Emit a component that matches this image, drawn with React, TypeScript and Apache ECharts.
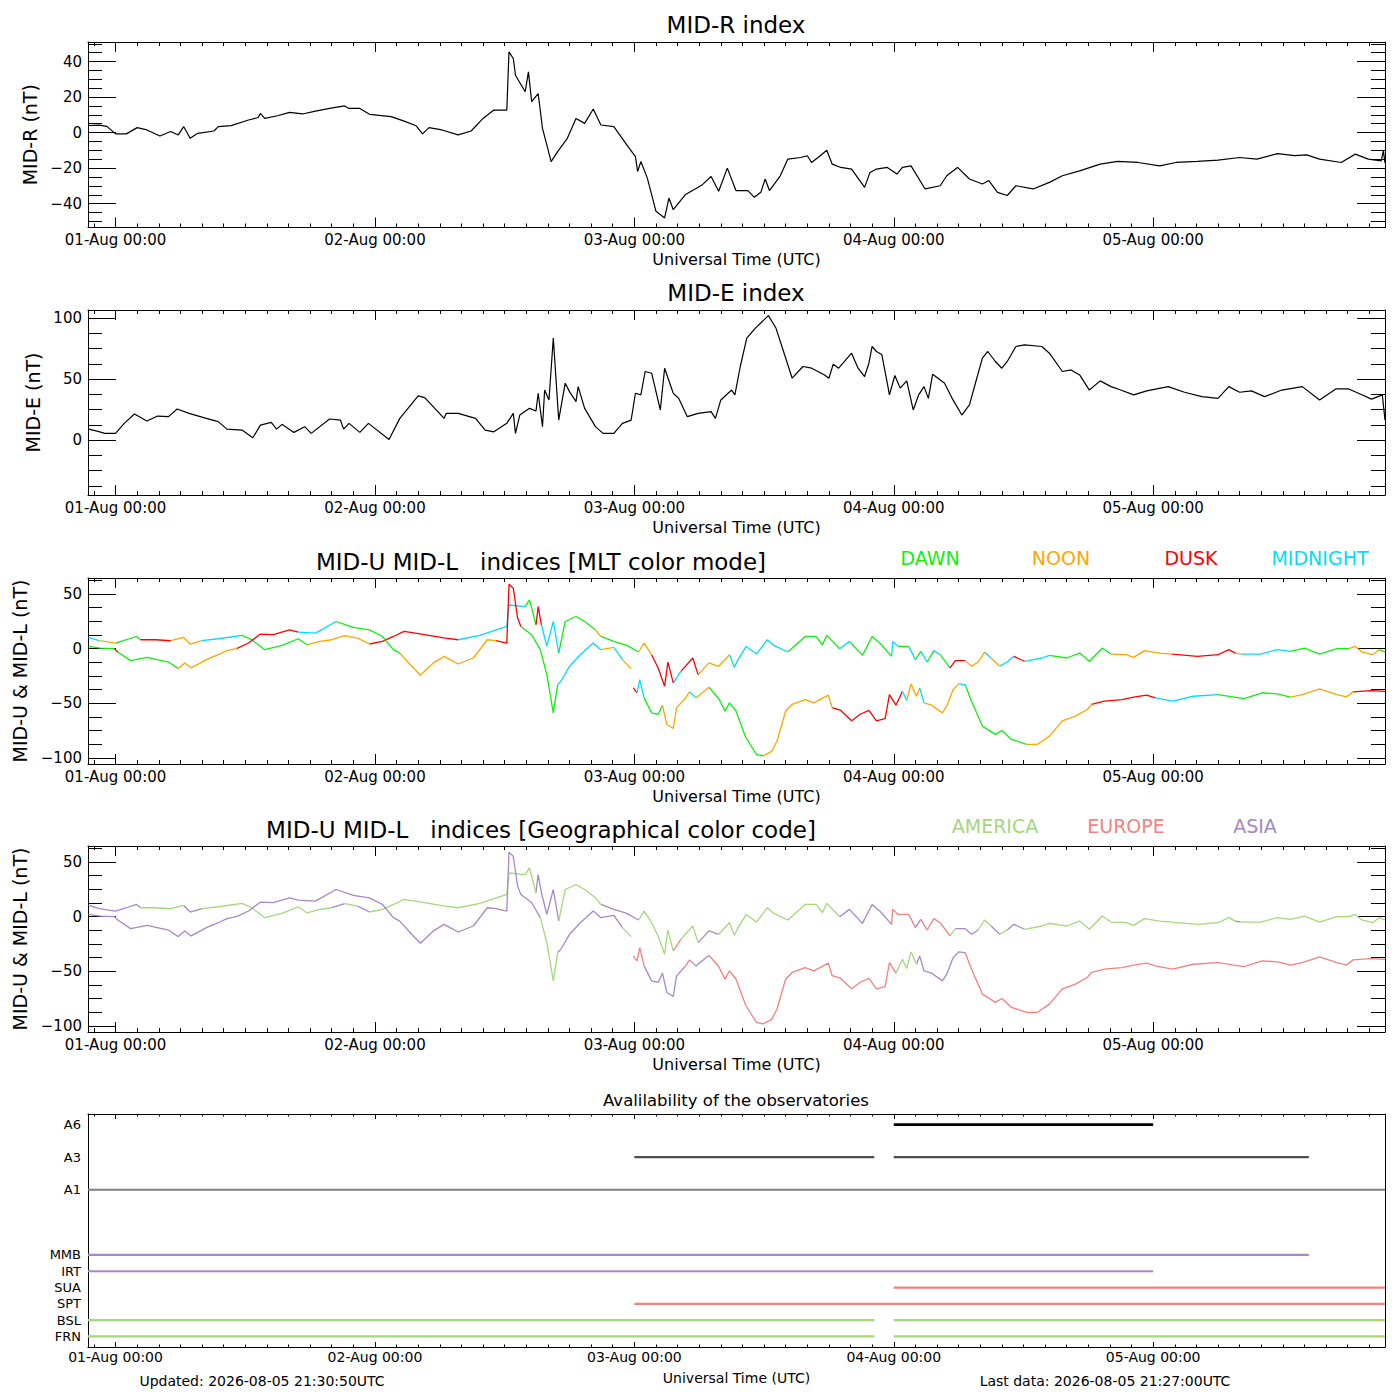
import React, { useEffect, useRef } from 'react';
import * as echarts from 'echarts';

// ---------- axis extents / tick labels ----------
const X_MIN = -2.55; // hours from 01-Aug 00:00 UTC
const X_MAX = 117.45;
const dayTicks = [0, 24, 48, 72, 96];
const dayLabels = ['01-Aug 00:00', '02-Aug 00:00', '03-Aug 00:00', '04-Aug 00:00', '05-Aug 00:00'];

// ---------- MID-R index [hour, nT] ----------
const midR: [number, number][] = [
  [-2.5, 4], [-1.5, 4.2], [-0.8, 3.5], [0, -0.7], [1, -0.7], [2, 2.8], [2.9, 1.5], [4.1, -1.9], [5.1, 0.6], [5.8, -1.3],
  [6.3, 3.4], [6.9, -3.2], [7.6, -0.4], [9.1, 0.9], [9.5, 3.4], [10.7, 3.9], [12.3, 7.1], [13.2, 8.5], [13.4, 10.8], [13.8, 8],
  [15, 9.5], [16.1, 11.4], [17.3, 10.5], [18.5, 12.1], [19.8, 13.6], [21.2, 15], [21.6, 13.6], [22.6, 13.6], [23.5, 10.3], [25.5, 9],
  [26.7, 6.5], [27.8, 3.9], [28.4, -0.7], [29, 2.8], [30.2, 1.5], [31.7, -1.3], [32.9, 0.9], [34, 8], [35, 12.7], [36.2, 12.7],
  [36.4, 45.4], [36.8, 41.7], [37, 32.3], [37.9, 23], [38.2, 34.2], [38.5, 17.4], [39.1, 22], [39.5, 2.4], [39.9, -6.9], [40.3, -16.3],
  [40.9, -10.7], [41.8, -3.2], [42.6, 8], [43.4, 5.2], [44.2, 13.3], [44.9, 4.3], [46.1, 3.4], [47.3, -6.9], [48.1, -13.5], [48.3, -21.9],
  [48.6, -16.3], [49.2, -25.6], [50, -44.3], [50.8, -48], [51.2, -36.8], [51.6, -43.4], [52.7, -35], [54.3, -29.3], [55.1, -24.7], [55.8, -33],
  [56.6, -20], [57.4, -32.6], [58.5, -32.6], [59.1, -36.4], [59.7, -33.6], [60.1, -26.1], [60.5, -32.6], [61.5, -24.3], [62.2, -14.9], [63.4, -14],
  [64, -13], [64.4, -16.8], [65.2, -13], [65.8, -9.9], [66.3, -17.7], [67.1, -19.6], [68.1, -20.5], [69.3, -30.8], [69.8, -22.4], [70.4, -20.5],
  [71.4, -19.6], [72.3, -23.3], [72.8, -19.6], [73.6, -18.7], [74.9, -31.7], [76.3, -29.9], [76.9, -24.3], [77.9, -19.6], [79, -26.1], [80.2, -28.9],
  [80.8, -27], [81.6, -33.6], [82.5, -35.4], [83.3, -29.9], [84.9, -31.7], [86.4, -28], [87.6, -24.3], [89.2, -21.5], [91.1, -17.7], [92.7, -16.2],
  [94.6, -16.8], [96.6, -18.7], [98.1, -16.8], [100.1, -16.2], [102, -15.5], [104, -14], [105.6, -14.9], [107.5, -11.8], [109.1, -13], [110.2, -12.5],
  [111.4, -14.9], [113.4, -16.8], [114.7, -12.1], [115.9, -14.9], [117.1, -15.9], [117.3, -10.3], [117.45, -17],
];

// ---------- MID-E index [hour, nT] ----------
const midE: [number, number][] = [
  [-2.5, 9], [-1.7, 7.4], [-1, 5.5], [0, 5.5], [0.8, 13.7], [1.75, 21.4], [2.9, 15.6], [3.9, 19.7], [4.9, 19.2], [5.7, 25.5],
  [6.8, 21.9], [8.4, 17.8], [9.5, 15.1], [10.3, 9], [11.7, 8.2], [12.7, 1.9], [13.4, 12.3], [14.4, 14.5], [14.9, 9], [15.4, 12.9],
  [16.5, 6.3], [17.5, 11], [18.1, 5.5], [19.8, 17.3], [20.8, 16.4], [21.1, 9], [21.6, 13.7], [22.6, 6.3], [23.4, 13.7], [25.3, 0.5],
  [26.3, 17.8], [28, 36.2], [28.6, 34.8], [30.4, 17.8], [30.6, 21.9], [31.7, 21.9], [33.3, 17.8], [34.2, 8.2], [35, 6.8], [36.2, 13.7],
  [36.8, 21.9], [37, 5.5], [37.4, 20.5], [38.3, 26], [38.9, 23.8], [39.1, 38.4], [39.5, 11], [39.7, 41], [40.1, 32.9], [40.5, 83.6],
  [41, 16.4], [41.6, 46.6], [42, 39.7], [42.6, 31.5], [42.8, 43.8], [43.4, 26], [44.4, 11], [45.1, 5.5], [46.1, 5.5], [46.9, 13.7],
  [47.7, 16.4], [48.1, 38.4], [48.6, 37], [49, 56.2], [49.6, 54.8], [50.4, 24.7], [50.8, 58.9], [51.6, 38.4], [52.1, 34.2], [52.9, 19.2],
  [53.9, 21.9], [55.1, 23.3], [55.5, 17.8], [56, 32.9], [57, 41], [57.3, 37], [57.8, 60.3], [58.4, 83.6], [59.2, 91.8], [60.4, 102],
  [61.1, 91.8], [61.9, 69.9], [62.6, 50.7], [63.6, 60.3], [64.4, 58.9], [65.6, 53.4], [66, 50.7], [66.4, 62.2], [66.9, 58.9], [68.1, 71.2],
  [68.7, 58.9], [69.3, 52.1], [69.7, 63], [70, 76.7], [70.4, 72.6], [70.9, 69.9], [71.4, 46.6], [71.6, 37], [72.1, 52.9], [72.6, 42.5],
  [73.2, 48.5], [73.8, 24.7], [74.3, 37], [74.8, 43.8], [75.2, 34.2], [75.6, 54], [76.7, 46.6], [77.4, 34.2], [78.3, 20.5], [79, 28.8],
  [79.6, 48], [80.2, 67.1], [80.7, 72.6], [81.4, 64.4], [82, 58.9], [82.5, 64.4], [83.3, 76.7], [84.1, 78], [85.7, 76.7], [86.4, 71.2],
  [87.6, 56.2], [88.4, 57.5], [89.2, 53.4], [90.1, 41], [91.1, 48.5], [92.1, 43.8], [93, 41], [94.2, 37], [95.4, 40.3], [97.4, 43.8],
  [98.9, 39.2], [100.5, 35.6], [102, 34.2], [103, 43.8], [104, 39.2], [105.1, 40.3], [106.3, 35.6], [107.9, 41], [109.8, 43.8], [111.4, 32.9],
  [112.9, 41.9], [114.1, 41.9], [115.2, 37.5], [116.2, 33.6], [117.2, 37], [117.45, 16.4],
];

// ---------- MID-U / MID-L [hour, nT, MLT sector, region] ----------
// MLT: D dawn, N noon, K dusk, M midnight ; region: A America, E Europe, S Asia
type P4 = [number, number | null, string, string];
const midU: P4[] = [
  [-2.5, 10.3, 'M', 'S'], [-1.5, 7.3, 'N', 'S'], [-0.6, 6.1, 'N', 'S'], [0, 5.2, 'D', 'S'], [1, 8.2, 'D', 'S'],
  [1.95, 11.2, 'D', 'S'], [2.3, 8.2, 'K', 'A'], [3.7, 8.2, 'K', 'A'], [5.1, 7.3, 'N', 'A'], [6.3, 10.3, 'N', 'S'],
  [6.9, 4.3, 'N', 'S'], [8, 7.3, 'M', 'A'], [9.5, 9.1, 'M', 'A'], [11.7, 12.2, 'D', 'A'], [12.6, 8.2, 'D', 'A'],
  [13.8, -0.9, 'D', 'A'], [15.4, 3, 'D', 'A'], [16.9, 9.1, 'D', 'A'], [17.7, 3.6, 'N', 'A'], [18.9, 6.7, 'N', 'A'],
  [20, 8.2, 'N', 'S'], [21.2, 11.9, 'N', 'A'], [22.4, 9.7, 'N', 'S'], [23.5, 4.3, 'K', 'A'], [24.7, 6.7, 'K', 'A'],
  [25.7, 11.2, 'K', 'A'], [26.7, 15.8, 'K', 'A'], [28.6, 12.8, 'K', 'A'], [30.5, 9.7, 'K', 'A'], [31.7, 8.2, 'M', 'A'],
  [33.7, 12.2, 'M', 'A'], [36.2, 20.4, 'M', 'A'], [36.4, 40, 'M', 'A'], [37.9, 38.6, 'D', 'A'], [38.3, 44.7, 'D', 'A'],
  [38.9, 21.9, 'K', 'S'], [39.1, 38.6, 'K', 'S'], [39.4, 21.9, 'M', 'S'], [39.9, 2.1, 'M', 'S'], [40.5, 24.9, 'M', 'S'],
  [41, -4, 'D', 'A'], [41.6, 24.9, 'D', 'A'], [42.6, 29.5, 'D', 'A'], [43.4, 24.9, 'D', 'A'], [44.4, 17.3, 'N', 'A'],
  [44.9, 11.2, 'D', 'S'], [46.1, 6.7, 'D', 'S'], [47.3, 3, 'D', 'S'], [48.4, -3, 'N', 'A'], [48.9, 5.2, 'N', 'A'],
  [49.6, -5.5, 'K', 'A'], [50.2, -17.6, 'K', 'A'], [50.8, -34.3, 'K', 'A'], [51.1, -12.2, 'K', 'A'], [51.6, -31.3, 'M', 'E'],
  [52.3, -20.7, 'K', 'A'], [53.4, -8.5, 'K', 'A'], [53.9, -23.7, 'N', 'S'], [54.9, -13, 'N', 'S'], [55.8, -16.1, 'N', 'A'],
  [56.8, -5.5, 'M', 'A'], [57.25, -17, 'M', 'A'], [57.6, -10, 'M', 'A'], [58.35, 2.1, 'M', 'A'], [59.3, -4.9, 'M', 'A'],
  [60.3, 8.2, 'M', 'A'], [60.9, 3, 'M', 'A'], [62.2, -3, 'D', 'A'], [63.8, 11.2, 'D', 'A'], [64.8, 11.2, 'D', 'A'],
  [65.4, 3.6, 'D', 'A'], [65.8, 12.2, 'D', 'A'], [67, 0, 'M', 'S'], [67.9, 6.7, 'D', 'S'], [69.1, -6.1, 'D', 'S'],
  [70, 11.2, 'D', 'S'], [70.8, 4.3, 'D', 'S'], [71.8, -7, 'M', 'E'], [71.9, 6.7, 'M', 'E'], [72.4, 2.1, 'D', 'E'],
  [73.4, 2.1, 'M', 'E'], [74, -10, 'D', 'S'], [74.5, -2.4, 'M', 'E'], [75.1, -12.2, 'D', 'E'], [75.7, -1.8, 'M', 'E'],
  [76.3, -5.5, 'D', 'E'], [77.2, -17.6, 'K', 'A'], [77.7, -10.9, 'K', 'S'], [78.6, -10.9, 'N', 'S'], [79.2, -16, 'N', 'S'],
  [79.8, -12.2, 'N', 'A'], [80.4, -3, 'M', 'A'], [81, -8.5, 'N', 'S'], [81.8, -16, 'M', 'A'], [82.5, -12.2, 'M', 'S'],
  [83.1, -7, 'K', 'S'], [84.1, -11.5, 'M', 'A'], [85.7, -8.5, 'M', 'A'], [86.4, -6.1, 'D', 'A'], [88, -8.5, 'D', 'A'],
  [89.2, -4, 'D', 'A'], [90.1, -11.5, 'D', 'A'], [91.3, 0.6, 'D', 'A'], [92.1, -4.9, 'N', 'A'], [93.5, -5.5, 'N', 'A'],
  [94.2, -7.9, 'N', 'A'], [95.2, -1.8, 'N', 'A'], [96.6, -4, 'N', 'A'], [97.75, -4.9, 'K', 'A'], [100.1, -7, 'K', 'A'],
  [102, -5.5, 'K', 'A'], [103, -0.9, 'K', 'A'], [103.6, -4, 'N', 'S'], [104.1, -4.9, 'M', 'A'], [105.9, -4.9, 'M', 'A'],
  [107.5, -0.9, 'M', 'A'], [108.7, -2.4, 'D', 'A'], [110, 0.6, 'D', 'A'], [111.4, -4.9, 'D', 'A'], [113, 0, 'D', 'A'],
  [114.1, 0, 'N', 'A'], [114.7, 2.1, 'N', 'A'], [115.3, -3, 'N', 'A'], [116.3, -5.5, 'N', 'A'], [116.9, -0.9, 'D', 'A'],
  [117.45, -3, 'N', 'A'],
];

const midL: P4[] = [
  [-2.5, 2.1, 'D', 'S'], [-1.4, 0.6, 'D', 'S'], [-0.1, 0, 'K', 'S'], [0.2, -3, 'D', 'S'], [1.4, -10.9, 'D', 'S'],
  [2.9, -7.9, 'D', 'S'], [4.9, -12.2, 'D', 'S'], [5.8, -18.2, 'N', 'S'], [6.4, -13, 'N', 'S'], [7, -17.6, 'N', 'S'],
  [8.4, -10, 'N', 'S'], [9.5, -5.5, 'N', 'S'], [10.3, -1.8, 'N', 'S'], [11.2, 0, 'K', 'S'], [12.3, 5.2, 'K', 'S'],
  [13.4, 13.4, 'K', 'S'], [14.6, 12.8, 'K', 'S'], [16.1, 17.3, 'K', 'S'], [16.9, 15.2, 'M', 'S'], [18.5, 14.3, 'M', 'S'],
  [20.4, 24.9, 'D', 'S'], [22, 19.5, 'D', 'S'], [23.5, 17.3, 'D', 'S'], [24.7, 11.2, 'D', 'S'], [25.7, -0.9, 'D', 'S'],
  [26.3, -4, 'N', 'S'], [27.4, -16.1, 'N', 'S'], [28.2, -24.3, 'N', 'S'], [29.4, -13, 'N', 'S'], [30.4, -7, 'N', 'S'],
  [31.7, -14, 'N', 'S'], [33.1, -8.5, 'N', 'S'], [34.4, 8.2, 'N', 'S'], [35.2, 7.3, 'K', 'S'], [36.2, 5.2, 'K', 'S'],
  [36.4, 59, 'K', 'S'], [36.8, 55.3, 'K', 'S'], [37.2, 28, 'K', 'S'], [37.5, 20.4, 'D', 'S'], [38.5, 12.8, 'D', 'S'],
  [39.3, -0.9, 'D', 'A'], [39.9, -23.7, 'D', 'A'], [40.5, -58.7, 'D', 'A'], [40.9, -32.8, 'M', 'S'], [41.2, -29.8, 'M', 'S'],
  [42, -16.1, 'M', 'S'], [43, -5.5, 'M', 'S'], [44.2, 5.2, 'M', 'S'], [44.9, -0.9, 'N', 'S'], [46.1, 1.2, 'M', 'S'],
  [46.9, -10, 'N', 'A'], [47.7, -18.2, 'N', 'A'], [47.8, null, 'N', 'A'], [47.9, -35.9, 'K', 'E'], [48.25, -40.4, 'M', 'E'],
  [48.5, -28.3, 'M', 'E'], [48.9, -45, 'D', 'S'], [49.6, -58.7, 'D', 'S'], [50.2, -60.2, 'D', 'S'], [50.6, -51.7, 'N', 'S'],
  [51, -69.3, 'N', 'S'], [51.6, -73, 'N', 'S'], [51.9, -54.1, 'N', 'S'], [52.7, -45.6, 'N', 'E'], [53.1, -39.5, 'M', 'S'],
  [53.7, -45, 'N', 'S'], [54.9, -35.3, 'D', 'E'], [55.8, -45.6, 'D', 'E'], [56.4, -57.1, 'D', 'E'], [56.8, -49.5, 'D', 'E'],
  [57.4, -57, 'D', 'E'], [58.3, -81, 'D', 'E'], [59.3, -96.7, 'D', 'E'], [59.9, -98, 'N', 'E'], [60.7, -94, 'N', 'E'],
  [61.2, -84.5, 'N', 'E'], [62, -57, 'N', 'E'], [62.6, -51, 'N', 'E'], [63.8, -46.5, 'N', 'E'], [64.6, -49.5, 'N', 'E'],
  [65.95, -42.5, 'N', 'E'], [66.3, -54, 'K', 'E'], [67.1, -56.5, 'K', 'E'], [68.1, -66, 'K', 'E'], [68.9, -60, 'K', 'E'],
  [69.7, -56.5, 'K', 'E'], [70.4, -66, 'K', 'E'], [71.2, -64, 'K', 'E'], [71.6, -42, 'K', 'E'], [72.2, -51.7, 'K', 'A'],
  [72.8, -38.9, 'M', 'A'], [73.2, -47.4, 'N', 'A'], [73.6, -32.2, 'N', 'A'], [74.1, -43.5, 'N', 'S'], [74.4, -35.9, 'M', 'S'],
  [74.8, -49.5, 'N', 'S'], [75.5, -51.7, 'N', 'S'], [76.5, -58.7, 'N', 'S'], [76.9, -52.6, 'N', 'S'], [77.5, -37.4, 'N', 'S'],
  [78, -32.2, 'M', 'S'], [78.6, -32.8, 'D', 'E'], [79.2, -48, 'D', 'E'], [80.2, -70.8, 'D', 'E'], [81.4, -78.4, 'D', 'E'],
  [82, -74.8, 'D', 'E'], [82.9, -83, 'D', 'E'], [84.3, -87.5, 'N', 'E'], [85.3, -87.5, 'N', 'E'], [86.4, -80, 'N', 'E'],
  [87.6, -66, 'N', 'E'], [88.8, -61.7, 'N', 'E'], [89.9, -55.6, 'N', 'E'], [90.3, -51, 'K', 'E'], [91.5, -48, 'K', 'E'],
  [93.1, -46.5, 'K', 'E'], [94.2, -44.4, 'K', 'E'], [95.4, -42.5, 'K', 'E'], [96.2, -45, 'M', 'E'], [97.8, -48, 'M', 'E'],
  [99.7, -43.5, 'M', 'E'], [102, -42, 'D', 'E'], [104.4, -45.6, 'D', 'E'], [106.1, -40.4, 'D', 'E'], [107.5, -41.3, 'D', 'E'],
  [108.7, -44.4, 'N', 'E'], [109.8, -42, 'N', 'E'], [111.4, -36.8, 'N', 'E'], [113, -42, 'N', 'E'], [113.9, -44, 'N', 'E'],
  [114.5, -39.5, 'K', 'E'], [116.1, -38.3, 'K', 'E'], [117.45, -39, 'K', 'E'],
];

// ---------- observatory availability ----------
const stationNames = ['FRN', 'BSL', 'SPT', 'SUA', 'IRT', 'MMB', 'A1', 'A3', 'A6'];
const stationLevels = [1, 2, 3, 4, 5, 6, 10, 12, 14];
const stationGroups = ['A', 'A', 'E', 'E', 'S', 'S', 'A1', 'A3', 'A6'];
const stationSpans: [number, number][][] = [
  [[-2.55, 70.2], [72, 117.45]],
  [[-2.55, 70.2], [72, 117.45]],
  [[48, 117.45]],
  [[72, 117.45]],
  [[-2.55, 96]],
  [[-2.55, 110.4]],
  [[-2.55, 117.45]],
  [[48, 70.2], [72, 110.4]],
  [[72, 96]],
];

const mltNames = ['DAWN', 'NOON', 'DUSK', 'MIDNIGHT'];
const mltKeys = ['D', 'N', 'K', 'M'];
const geoNames = ['AMERICA', 'EUROPE', 'ASIA'];
const geoKeys = ['A', 'E', 'S'];

const COLORS: Record<string, string> = {
  D: '#11ee11', N: '#ffa500', K: '#ff0000', M: '#00dcff',
  A: '#a3d87c', E: '#f4817f', S: '#a688c6',
  A1: '#808080', A3: '#4d4d4d', A6: '#000000',
};

const FONT = 'DejaVu Sans';

function rangeStep(a: number, b: number, s: number) {
  const out: number[] = [];
  for (let v = a; v <= b + 1e-9; v += s) out.push(Math.round(v * 1000) / 1000);
  return out;
}

function colorRuns(pts: P4[], ci: number) {
  const out: Record<string, any[]> = {};
  for (let i = 0; i < pts.length - 1; i++) {
    const a = pts[i], b = pts[i + 1];
    if (a[1] == null || b[1] == null) continue;
    const c = a[ci] as string;
    const arr = out[c] || (out[c] = []);
    const last = arr[arr.length - 1];
    if (!last || last[0] !== a[0]) {
      if (last) arr.push([a[0], null]);
      arr.push([a[0], a[1]]);
    }
    arr.push([b[0], b[1]]);
  }
  return out;
}

const minus = (v: number) => String(v).replace('-', '\u2212');

export default function App() {
  const ref = useRef<HTMLDivElement>(null);
  useEffect(() => {
    if (!ref.current) return;
    const chart = echarts.init(ref.current, null, { renderer: 'svg' });

    const L = 88, W = 1297;
    const grids = [
      { left: L, top: 42, width: W, height: 185.5 },
      { left: L, top: 310, width: W, height: 185 },
      { left: L, top: 578, width: W, height: 186 },
      { left: L, top: 846, width: W, height: 186 },
      { left: L, top: 1114, width: W, height: 233 },
    ];
    const xAxes: any[] = [];
    const yAxes: any[] = [];
    const hourMinor = rangeStep(-2, 116, 2);

    const black = { color: '#000', width: 1 };
    function addX(gi: number, big: boolean) {
      const idx = xAxes.length;
      const majLen = big ? 10 : 5;
      const minLen = big ? 4 : 2.5;
      const base = { gridIndex: gi, type: 'value', min: X_MIN, max: X_MAX, splitLine: { show: false }, axisPointer: { show: false } };
      xAxes.push({
        ...base, position: 'bottom',
        axisLine: { show: true, onZero: false, lineStyle: black },
        axisTick: { show: true, inside: true, length: majLen, customValues: dayTicks, lineStyle: black },
        axisLabel: {
          show: true, customValues: dayTicks, color: '#000', fontFamily: FONT, fontSize: big ? 15 : 14, margin: big ? 5 : 3,
          formatter: (v: number) => dayLabels[dayTicks.indexOf(v)] ?? '',
        },
        name: 'Universal Time (UTC)', nameLocation: 'middle', nameGap: big ? 24 : 24,
        nameTextStyle: { color: '#000', fontFamily: FONT, fontSize: big ? 16 : 14 },
      });
      xAxes.push({ ...base, position: 'bottom', axisLine: { show: false, onZero: false }, axisLabel: { show: false },
        axisTick: { show: true, inside: true, length: minLen, customValues: hourMinor, lineStyle: black } });
      xAxes.push({ ...base, position: 'top', axisLine: { show: true, onZero: false, lineStyle: black }, axisLabel: { show: false },
        axisTick: { show: true, inside: true, length: majLen, customValues: dayTicks, lineStyle: black } });
      xAxes.push({ ...base, position: 'top', axisLine: { show: false, onZero: false }, axisLabel: { show: false },
        axisTick: { show: true, inside: true, length: minLen, customValues: hourMinor, lineStyle: black } });
      return idx;
    }
    function addY(gi: number, min: number, max: number, major: number[], minor: number[], name: string, gap: number) {
      const idx = yAxes.length;
      const base = { gridIndex: gi, type: 'value', min, max, splitLine: { show: false }, axisPointer: { show: false } };
      yAxes.push({
        ...base, position: 'left',
        axisLine: { show: true, onZero: false, lineStyle: black },
        axisTick: { show: true, inside: true, length: 28, customValues: major, lineStyle: black },
        axisLabel: { show: true, customValues: major, color: '#000', fontFamily: FONT, fontSize: 15, margin: 6, formatter: minus },
        name, nameLocation: 'middle', nameGap: gap, nameRotate: 90,
        nameTextStyle: { color: '#000', fontFamily: FONT, fontSize: 19 },
      });
      yAxes.push({ ...base, position: 'left', axisLine: { show: false, onZero: false }, axisLabel: { show: false },
        axisTick: { show: true, inside: true, length: 14, customValues: minor, lineStyle: black } });
      yAxes.push({ ...base, position: 'right', axisLine: { show: true, onZero: false, lineStyle: black }, axisLabel: { show: false },
        axisTick: { show: true, inside: true, length: 28, customValues: major, lineStyle: black } });
      yAxes.push({ ...base, position: 'right', axisLine: { show: false, onZero: false }, axisLabel: { show: false },
        axisTick: { show: true, inside: true, length: 14, customValues: minor, lineStyle: black } });
      return idx;
    }

    const x0 = addX(0, true), y0 = addY(0, -53.4, 51, [-40, -20, 0, 20, 40], rangeStep(-50, 50, 5), 'MID-R (nT)', 46);
    const x1 = addX(1, true), y1 = addY(1, -45, 106.6, [0, 50, 100], rangeStep(-37.5, 100, 12.5), 'MID-E (nT)', 43);
    const x2 = addX(2, true), y2 = addY(2, -105.5, 64.7, [-100, -50, 0, 50], rangeStep(-100, 62.5, 12.5), 'MID-U & MID-L (nT)', 56);
    const x3 = addX(3, true), y3 = addY(3, -105.5, 64.7, [-100, -50, 0, 50], rangeStep(-100, 62.5, 12.5), 'MID-U & MID-L (nT)', 56);
    const x4 = addX(4, false);
    const y4 = yAxes.length;
    yAxes.push({
      gridIndex: 4, type: 'value', min: 0.35, max: 14.65, position: 'left', splitLine: { show: false },
      axisLine: { show: true, onZero: false, lineStyle: black }, axisTick: { show: false },
      axisLabel: { show: true, customValues: stationLevels, color: '#000', fontFamily: FONT, fontSize: 13, margin: 7,
        formatter: (v: number) => stationNames[stationLevels.indexOf(v)] ?? '' },
    });
    yAxes.push({
      gridIndex: 4, type: 'value', min: 0.35, max: 14.65, position: 'right', splitLine: { show: false },
      axisLine: { show: true, onZero: false, lineStyle: black }, axisTick: { show: false }, axisLabel: { show: false },
    });

    const series: any[] = [];
    const lineBase = { type: 'line', symbol: 'none', showSymbol: false, connectNulls: false, silent: true, animation: false };
    series.push({ ...lineBase, xAxisIndex: x0, yAxisIndex: y0, data: midR, lineStyle: { color: '#000', width: 1.2 } });
    series.push({ ...lineBase, xAxisIndex: x1, yAxisIndex: y1, data: midE, lineStyle: { color: '#000', width: 1.2 } });
    [midU, midL].forEach((pts) => {
      const mlt = colorRuns(pts, 2);
      Object.keys(mlt).forEach((k) => series.push({ ...lineBase, xAxisIndex: x2, yAxisIndex: y2, data: mlt[k], lineStyle: { color: COLORS[k], width: 1.3 } }));
      const geo = colorRuns(pts, 3);
      Object.keys(geo).forEach((k) => series.push({ ...lineBase, xAxisIndex: x3, yAxisIndex: y3, data: geo[k], lineStyle: { color: COLORS[k], width: 1.3 } }));
    });
    stationNames.forEach((_, i) => {
      const data: any[] = [];
      stationSpans[i].forEach(([s, e]) => { data.push([s, stationLevels[i]], [e, stationLevels[i]], [e, null]); });
      series.push({ ...lineBase, xAxisIndex: x4, yAxisIndex: y4, data, lineStyle: { color: COLORS[stationGroups[i]], width: i === 8 ? 2.6 : 2.2 } });
    });

    const txt = (text: string, x: number, y: number, size: number, fill = '#000') => ({
      type: 'text', x, y, silent: true,
      style: { text, fill, fontSize: size, fontFamily: FONT, align: 'center', verticalAlign: 'middle' },
    });
    const graphics: any[] = [
      txt('MID-R index', 736, 25, 23),
      txt('MID-E index', 736, 293, 23),
      txt('MID-U MID-L   indices [MLT color mode]', 541, 562, 23),
      txt('MID-U MID-L   indices [Geographical color code]', 541, 830, 23),
      txt('Avalilability of the observatories', 736, 1100, 16.5),
      txt('Updated: 2026-08-05 21:30:50UTC', 262, 1381, 14),
      txt('Last data: 2026-08-05 21:27:00UTC', 1105, 1381, 14),
    ];
    const mltX = [930, 1061, 1191, 1320];
    mltNames.forEach((n, i) => graphics.push(txt(n, mltX[i], 558, 19, COLORS[mltKeys[i]])));
    const geoX = [995, 1126, 1255];
    geoNames.forEach((n, i) => graphics.push(txt(n, geoX[i], 826, 19, COLORS[geoKeys[i]])));

    chart.setOption({
      animation: false,
      backgroundColor: '#fff',
      textStyle: { fontFamily: FONT },
      grid: grids,
      xAxis: xAxes,
      yAxis: yAxes,
      series,
      graphic: graphics,
    });
    return () => chart.dispose();
  }, []);

  return <div ref={ref} style={{ position: 'absolute', left: 0, top: 0, width: 1400, height: 1400, background: '#fff' }} />;
}
